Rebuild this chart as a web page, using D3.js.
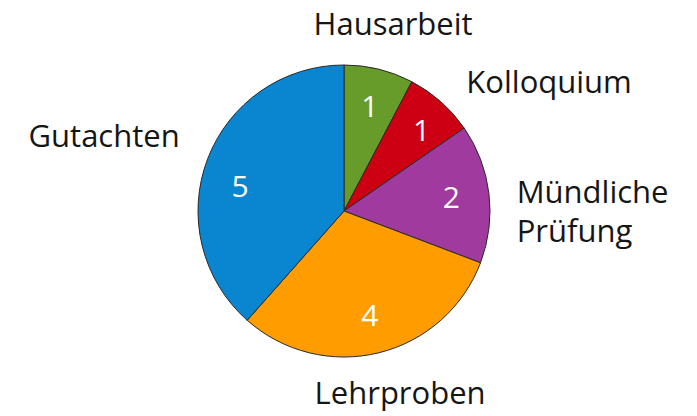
<!DOCTYPE html>
<html><head><meta charset="utf-8">
<script src="https://cdn.jsdelivr.net/npm/d3@7"></script>
<style>html,body{margin:0;padding:0;background:#fff;}svg{display:block;}</style>
</head><body>
<svg id="chart" width="697" height="416"></svg>
<script>
// data
const categories = ["Hausarbeit", "Kolloquium", "Mündliche Prüfung", "Lehrproben", "Gutachten"];
const values = [1, 1, 2, 4, 5];
const colors = ["#689c2a", "#cc0012", "#a03a9e", "#ff9c00", "#0a85cf"];

// layout
const W = 697, H = 416, cx = 344, cy = 211, R = 146;
const innerR = 108, outerR = 180;
const fontFamily = "'Open Sans', 'Noto Sans', sans-serif";
const fs = 31;
// label nudges (layout adjustments)
const outerNudge = [[6, -12], [3, 6], [-6, 22], [13, 7], [4, -11]];
const innerNudge = [[0, 0], [6, 0], [0, 0], [0, 0], [-3, 14]];

const data = categories.map((c, i) => ({ name: c, value: values[i], color: colors[i], i }));
const svg = d3.select("#chart");
const g = svg.append("g").attr("transform", `translate(${cx},${cy})`);

const pie = d3.pie().value(d => d.value).sort(null);
const arcs = pie(data);
const arc = d3.arc().innerRadius(0).outerRadius(R);

g.selectAll("path.slice").data(arcs).enter().append("path")
  .attr("class", "slice")
  .attr("d", arc)
  .attr("fill", d => d.data.color)
  .attr("stroke", "#2a2a2a")
  .attr("stroke-width", 1)
  .attr("stroke-linejoin", "round");

const inArc = d3.arc().innerRadius(innerR).outerRadius(innerR);
g.selectAll("text.val").data(arcs).enter().append("text")
  .attr("class", "val")
  .attr("x", d => inArc.centroid(d)[0] + innerNudge[d.data.i][0])
  .attr("y", d => inArc.centroid(d)[1] + innerNudge[d.data.i][1] + 10.5)
  .attr("text-anchor", "middle")
  .attr("font-family", fontFamily)
  .attr("font-size", 30)
  .attr("fill", "#fff")
  .text(d => d.data.value);

const outArc = d3.arc().innerRadius(outerR).outerRadius(outerR);
arcs.forEach(d => {
  const mid = (d.startAngle + d.endAngle) / 2;
  const s = Math.sin(mid);
  const anchor = Math.abs(s) < 0.45 ? "middle" : (s > 0 ? "start" : "end");
  const [px, py] = outArc.centroid(d);
  const x = px + outerNudge[d.data.i][0];
  const yMid = py + outerNudge[d.data.i][1];
  const words = d.data.name.split(" ");
  const lh = 39;
  const n = words.length;
  const t = g.append("text")
    .attr("text-anchor", anchor)
    .attr("font-family", fontFamily)
    .attr("font-size", fs)
    .attr("fill", "#151515");
  words.forEach((w, k) => {
    t.append("tspan")
      .attr("x", x)
      .attr("y", yMid + 11 + (k - (n - 1) / 2) * lh)
      .text(w);
  });
});
</script>
</body></html>
